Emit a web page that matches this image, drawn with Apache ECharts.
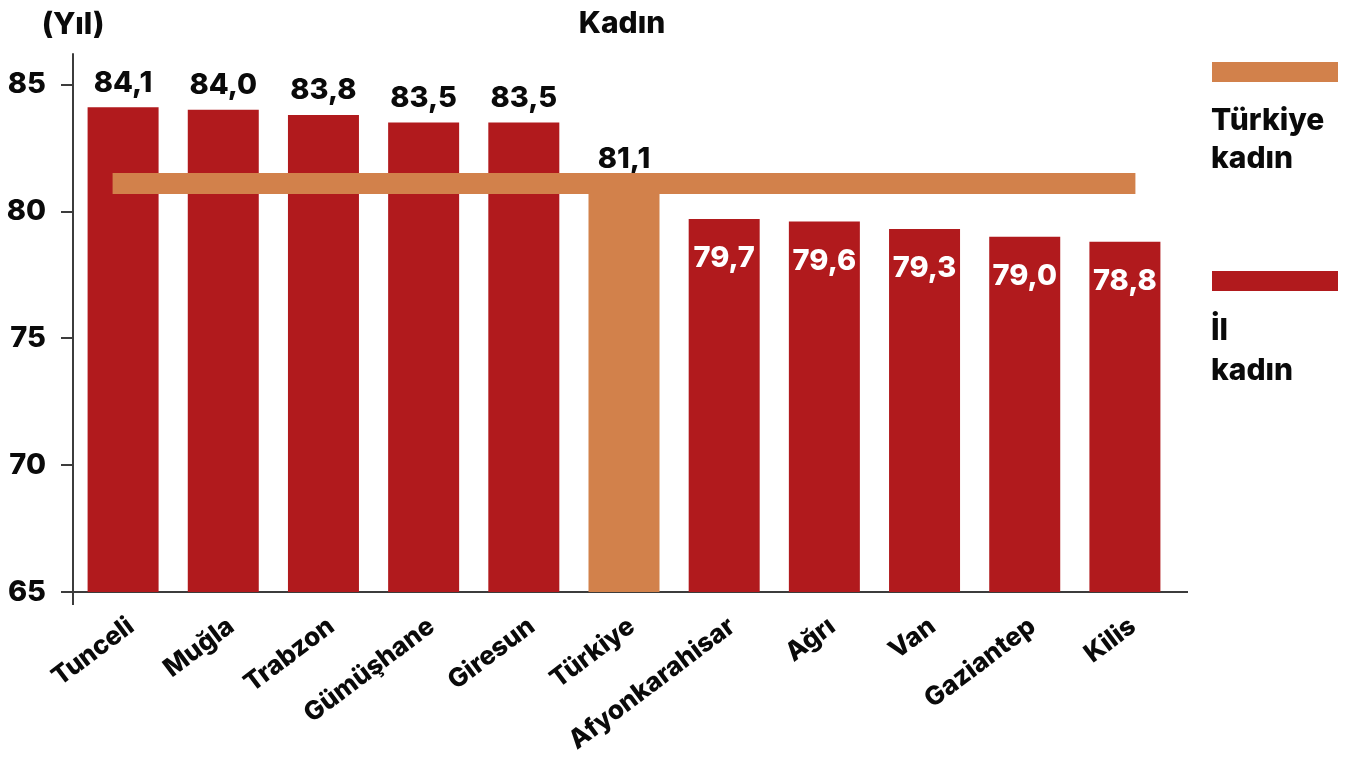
<!DOCTYPE html>
<html>
<head>
<meta charset="utf-8">
<script src="https://cdn.jsdelivr.net/npm/echarts@6/dist/echarts.min.js"></script>
<style>
    html, body { margin: 0; padding: 0; background: #fff; }
    #chart { width: 1349px; height: 758px; }
</style>
</head>
<body>
<div id="chart"></div>
<script>
    const cities = ['Tunceli', 'Muğla', 'Trabzon', 'Gümüşhane', 'Giresun', 'Türkiye', 'Afyonkarahisar', 'Ağrı', 'Van', 'Gaziantep', 'Kilis'];
    const lifeYears = [84.1, 84.0, 83.8, 83.5, 83.5, 81.1, 79.7, 79.6, 79.3, 79.0, 78.8];
    const turkiyeValue = 81.1;
    const yTicks = [65, 70, 75, 80, 85];

    const red = '#b11a1d';
    const orange = '#d2814b';
    const font = 'Inter';
    const weight = 800;

    const fmt = v => v.toFixed(1).replace('.', ',');

    let myChart = echarts.init(document.getElementById('chart'));

    const barData = lifeYears.map((v, i) => {
        const isTr = cities[i] === 'Türkiye';
        const above = v >= turkiyeValue;
        return {
            value: v,
            itemStyle: { color: isTr ? orange : red },
            label: above ? {
                position: 'top',
                distance: 10,
                color: '#0a0a0a'
            } : {
                position: 'insideTop',
                distance: 25,
                color: '#fff'
            }
        };
    });

    myChart.setOption({
        animation: false,
        textStyle: { fontFamily: font },
        title: {
            text: 'Kadın',
            left: 617,
            top: 4,
            textAlign: 'center',
            textStyle: { fontFamily: font, fontSize: 30, fontWeight: weight, color: '#0a0a0a' }
        },
        grid: {
            left: 73,
            width: 1102,
            top: 54,
            bottom: 166
        },
        xAxis: {
            type: 'category',
            data: cities,
            axisLine: { lineStyle: { color: '#3c3c3c', width: 2 } },
            axisTick: { show: false },
            axisLabel: {
                rotate: 37,
                margin: 21,
                verticalAlign: 'top',
                fontSize: 26,
                fontWeight: weight,
                fontFamily: font,
                color: '#0a0a0a'
            }
        },
        yAxis: {
            type: 'value',
            min: 65,
            max: 86.2,
            name: '(Yıl)',
            nameLocation: 'end',
            nameGap: 14,
            nameTextStyle: { fontFamily: font, fontSize: 30, fontWeight: weight, color: '#0a0a0a', align: 'center' },
            axisLine: { show: true, lineStyle: { color: '#3c3c3c', width: 2 } },
            axisTick: { show: true, length: 12, customValues: yTicks, lineStyle: { color: '#3c3c3c', width: 2 } },
            axisLabel: {
                customValues: yTicks,
                margin: 27,
                fontSize: 29,
                fontWeight: weight,
                fontFamily: font,
                color: '#0a0a0a'
            },
            splitLine: { show: false }
        },
        series: [{
            name: 'İl kadın',
            type: 'bar',
            barWidth: 71,
            data: barData,
            label: {
                show: true,
                fontSize: 29,
                fontWeight: weight,
                fontFamily: font,
                formatter: p => fmt(p.value)
            },
            markLine: {
                silent: true,
                symbol: ['none', 'none'],
                label: { show: false },
                lineStyle: { color: orange, width: 21, type: 'solid', cap: 'square', opacity: 1 },
                data: [[
                    { coord: [cities[0], turkiyeValue] },
                    { coord: [cities[cities.length - 1], turkiyeValue] }
                ]]
            }
        }],
        graphic: [
            // axis line extensions
            { type: 'line', shape: { x1: 1175, y1: 592, x2: 1188, y2: 592 }, style: { stroke: '#3c3c3c', lineWidth: 2 } },
            { type: 'line', shape: { x1: 73, y1: 592, x2: 73, y2: 605 }, style: { stroke: '#3c3c3c', lineWidth: 2 } },
            // legend
            { type: 'rect', shape: { x: 1212, y: 62, width: 126, height: 20 }, style: { fill: orange } },
            { type: 'text', left: 1211, top: 102, style: { text: 'Türkiye\nkadın', font: weight + ' 30px ' + font, fill: '#0a0a0a', lineHeight: 38 } },
            { type: 'rect', shape: { x: 1212, y: 271, width: 126, height: 20 }, style: { fill: red } },
            { type: 'text', left: 1211, top: 311, style: { text: 'İl\nkadın', font: weight + ' 30px ' + font, fill: '#0a0a0a', lineHeight: 40 } }
        ]
    });
</script>
</body>
</html>
